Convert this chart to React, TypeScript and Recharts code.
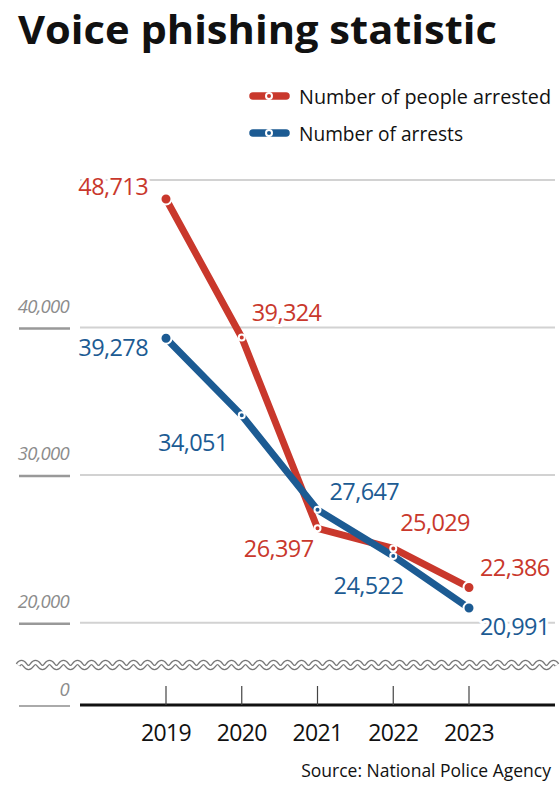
import { LineChart, Line, XAxis, YAxis, CartesianGrid, LabelList, ReferenceLine } from "recharts"

// values
const YEARS = ["2019", "2020", "2021", "2022", "2023"]
const PEOPLE_ARRESTED = [48713, 39324, 26397, 25029, 22386]
const ARRESTS = [39278, 34051, 27647, 24522, 20991]

// broken y axis: the bottom of the plot stands for 0
const AXIS_FLOOR = 14420
const AXIS_TOP = 50000
const BREAK_AT = 17130
const Y_TICKS = [AXIS_FLOOR, 20000, 30000, 40000]

const RED = "#c9382c"
const BLUE = "#1c5b93"
const FONT = "'Open Sans', 'Noto Sans', sans-serif"

const SERIES = [
  { key: "people", name: "Number of people arrested", color: RED, values: PEOPLE_ARRESTED },
  { key: "arrests", name: "Number of arrests", color: BLUE, values: ARRESTS },
]

// where each value label sits relative to its point: dx, dy, anchor
const LABEL_PLACE: any = {
  people: [[-18, -13, "end"], [10, -26, "start"], [-4, 20, "end"], [7, -26, "start"], [11, -20, "start"]],
  arrests: [[-18, 9, "end"], [-14, 27, "end"], [12, -19, "start"], [10, 29, "end"], [11, 18, "start"]],
}

const data = YEARS.map((year, i) => ({ year, people: PEOPLE_ARRESTED[i], arrests: ARRESTS[i] }))

const fmt = (v: number) => v.toLocaleString("en-US")

function YTick(props: any) {
  const { x, y, payload } = props
  const isFloor = payload.value === AXIS_FLOOR
  return (
    <g>
      <line x1={x - 61} x2={x - 10} y1={y + 1} y2={y + 1} stroke={isFloor ? "#aaa" : "#999"} strokeWidth={isFloor ? 2 : 2.5} />
      <text x={x - 11} y={isFloor ? y - 9 : y - 15} textAnchor="end" fontFamily={FONT} fontStyle="italic" fontSize={18.5} letterSpacing={-0.7} fill="#8c8c8c">
        {isFloor ? "0" : fmt(payload.value)}
      </text>
    </g>
  )
}

function XTick(props: any) {
  const { x, y, payload } = props
  return (
    <g>
      <line x1={x} x2={x} y1={y - 19} y2={y} stroke="#444" strokeWidth={1.2} />
      <text x={x} y={y + 36} textAnchor="middle" fontFamily={FONT} fontSize={23} letterSpacing={-0.7} fill="#111">
        {payload.value}
      </text>
    </g>
  )
}

function WaveBreak(props: any) {
  const { x1, x2, y1 } = props
  const start = x1 - 62
  let d = `M ${start} ${y1}`
  for (let x = start; x < x2; x += 7) d += x === start ? " q 3.5 -5 7 0" : " t 7 0"
  return (
    <g>
      <path d={d} fill="none" stroke="#777" strokeWidth={5.5} />
      <path d={d} fill="none" stroke="#fff" strokeWidth={3} />
    </g>
  )
}

const makeDot = (color: string) => (p: any) => {
  const end = p.index === 0 || p.index === YEARS.length - 1
  return (
    <circle
      key={`dot-${color}-${p.index}`}
      cx={p.cx}
      cy={p.cy}
      r={end ? 5.5 : 3}
      fill={color}
      stroke="#fff"
      strokeWidth={2}
    />
  )
}

const makeLabel = (key: string, color: string) => (p: any) => {
  const x = p.x ?? p.viewBox?.x
  const y = p.y ?? p.viewBox?.y
  const [dx, dy, anchor] = LABEL_PLACE[key][p.index]
  return (
    <text
      x={x + dx}
      y={y + dy}
      textAnchor={anchor}
      dominantBaseline="central"
      fontFamily={FONT}
      fontSize={23.5}
      letterSpacing={-0.6}
      fill={color}
      stroke="#fff"
      strokeWidth={6}
      paintOrder="stroke"
    >
      {fmt(p.value)}
    </text>
  )
}

export default function App() {
  return (
    <div style={{ position: "absolute", left: 0, top: 0, width: 560, height: 795, background: "#fff" }}>
      <LineChart width={560} height={795} data={data} margin={{ top: 180, right: 5, bottom: 30, left: 18 }}>
        <CartesianGrid horizontal vertical={false} stroke="#d2d2d2" strokeWidth={2} />
        <XAxis
          dataKey="year"
          height={60}
          padding={{ left: 86, right: 86 }}
          axisLine={{ stroke: "#111", strokeWidth: 3 }}
          tickLine={false}
          tickSize={0}
          tickMargin={0}
          tick={<XTick />}
          interval={0}
        />
        <YAxis
          width={62}
          domain={[AXIS_FLOOR, AXIS_TOP]}
          ticks={Y_TICKS}
          axisLine={false}
          tickLine={false}
          tickSize={0}
          tickMargin={0}
          tick={<YTick />}
          interval={0}
        />
        <ReferenceLine y={BREAK_AT} shape={(p: any) => <WaveBreak {...p} />} />
        {SERIES.map((s) => (
          <Line
            key={s.key}
            dataKey={s.key}
            name={s.name}
            stroke={s.color}
            strokeWidth={7}
            strokeLinejoin="round"
            dot={makeDot(s.color)}
            activeDot={false}
            isAnimationActive={false}
          >
            <LabelList dataKey={s.key} content={makeLabel(s.key, s.color)} />
          </Line>
        ))}
      </LineChart>

      <svg width={560} height={795} style={{ position: "absolute", left: 0, top: 0, pointerEvents: "none" }}>
        <text x={18} y={44} fontFamily={FONT} fontWeight={700} fontSize={40} fill="#111" textLength={479} lengthAdjust="spacingAndGlyphs">
          Voice phishing statistic
        </text>
        {SERIES.map((s, i) => {
          const cy = 96 + i * 37
          return (
            <g key={s.key}>
              <line x1={253} x2={286} y1={cy} y2={cy} stroke={s.color} strokeWidth={7.5} strokeLinecap="round" />
              <circle cx={269} cy={cy} r={3} fill={s.color} stroke="#fff" strokeWidth={2} />
              <text x={299} y={cy + 7.5} fontFamily={FONT} fontSize={20} fill="#111" textLength={i === 0 ? 252 : 164} lengthAdjust="spacingAndGlyphs">
                {s.name}
              </text>
            </g>
          )
        })}
        <text x={551} y={777} textAnchor="end" fontFamily={FONT} fontSize={17.5} fill="#111">
          Source: National Police Agency
        </text>
      </svg>
    </div>
  )
}
